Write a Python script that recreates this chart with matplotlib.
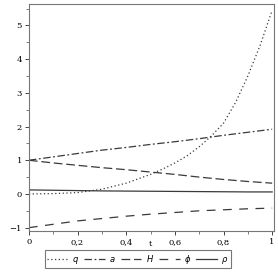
import numpy as np
import matplotlib.pyplot as plt

# values
t = [0, 0.1, 0.2, 0.3, 0.4, 0.5, 0.6, 0.7, 0.8, 0.9, 1.0]
tq = [0, 0.1, 0.2, 0.3, 0.4, 0.5, 0.55, 0.6, 0.65, 0.7, 0.75, 0.8, 0.85,
      0.9, 0.95, 1.0]
q = [0, 0.01, 0.04, 0.14, 0.32, 0.58, 0.74, 0.92, 1.13, 1.4, 1.72, 2.1,
     2.72, 3.5, 4.4, 5.45]
a = [1, 1.1, 1.2, 1.3, 1.38, 1.47, 1.55, 1.64, 1.74, 1.83, 1.92]
H = [1, 0.92, 0.85, 0.78, 0.72, 0.65, 0.58, 0.5, 0.43, 0.37, 0.32]
phi = [-1, -0.9, -0.8, -0.73, -0.66, -0.6, -0.55, -0.5, -0.47, -0.44, -0.42]
rho = [0.12, 0.11, 0.1, 0.09, 0.085, 0.08, 0.075, 0.07, 0.065, 0.06, 0.06]

xticks = [0, 0.2, 0.4, 0.6, 0.8, 1]
xticklabels = ['0', '0,2', '0,4', '0,6', '0,8', '1']
yticks = [-1, 0, 1, 2, 3, 4, 5]

plt.rcParams['font.family'] = 'DejaVu Serif'
fig = plt.figure(figsize=(2.78, 2.78), dpi=100)
ax = fig.add_axes([0.104, 0.169, 0.882, 0.817])

lw = 0.9
col = '#3a3a3a'
ax.plot(tq, q, color=col, lw=lw, linestyle=(0, (1, 2)), label='$q$')
ax.plot(t, a, color=col, lw=lw, linestyle=(0, (6, 2, 1.5, 2)), label='$a$')
ax.plot(t, H, color=col, lw=lw, linestyle=(0, (7, 3)), label='$H$')
ax.plot(t, phi, color=col, lw=lw, linestyle=(0, (7, 6)), label=r'$\phi$')
ax.plot(t, rho, color=col, lw=lw, linestyle='-', label=r'$\rho$')

ax.set_xlim(0, 1.008)
ax.set_ylim(-1.1, 5.64)
ax.set_xticks(xticks)
ax.set_xticklabels(xticklabels)
ax.set_xticks(np.arange(0.1, 1.0, 0.2), minor=True)
ax.set_yticks(yticks)
ax.set_yticks(np.arange(-0.5, 5.6, 1.0), minor=True)
ax.tick_params(labelsize=6, length=3, width=0.7, color='#444444', pad=2)
ax.tick_params(which='minor', length=2, width=0.6, color='#666666')
for s in ax.spines.values():
    s.set_color('#777777')
    s.set_linewidth(0.8)

fig.text(0.54, 0.122, 't', fontsize=6, ha='center', va='center')

leg = fig.legend(loc='center', bbox_to_anchor=(0.495, 0.068), ncol=5,
                 fontsize=6, handlelength=2.5, columnspacing=0.6,
                 handletextpad=0.5, borderpad=0.3, fancybox=False,
                 frameon=True)
leg.get_frame().set_edgecolor('#555555')
leg.get_frame().set_linewidth(0.8)

fig.savefig('out.png', dpi=100)
